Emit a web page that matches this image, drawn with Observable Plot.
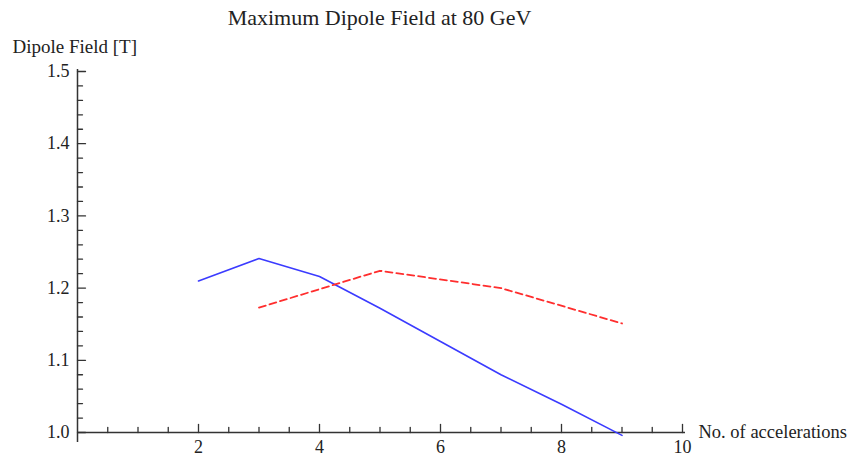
<!DOCTYPE html>
<html><head><meta charset="utf-8">
<script src="https://cdn.jsdelivr.net/npm/d3@7"></script>
<script src="https://cdn.jsdelivr.net/npm/@observablehq/plot@0.6"></script>
<style>
body{margin:0;background:#fff;font-family:"Liberation Serif",serif;}
#title{margin-left:77px;width:605px;height:36px;line-height:36px;text-align:center;font-size:22px;color:#222;}
</style></head>
<body>
<div id="title">Maximum Dipole Field at 80 GeV</div>
<div id="chart"></div>
<script>
// Data
const accelSolid = [2, 3, 4, 5, 6, 7, 8, 9];
const fieldSolid = [1.210, 1.241, 1.216, 1.172, 1.126, 1.080, 1.039, 0.996];
const accelDashed = [3, 5, 7, 9];
const fieldDashed = [1.173, 1.224, 1.200, 1.151];
const xTickLabels = [2, 4, 6, 8, 10];
const yTickLabels = [1.0, 1.1, 1.2, 1.3, 1.4, 1.5];
const xMinorTicks = [0.5,1,1.5,2.5,3,3.5,4.5,5,5.5,6.5,7,7.5,8.5,9,9.5];
const yMinorTicks = [1.02,1.04,1.06,1.08,1.12,1.14,1.16,1.18,1.22,1.24,1.26,1.28,1.32,1.34,1.36,1.38,1.42,1.44,1.46,1.48];
const yTitle = "Dipole Field [T]";
const xTitle = "No. of accelerations";

const solid = accelSolid.map((x, i) => ({x, y: fieldSolid[i]}));
const dashed = accelDashed.map((x, i) => ({x, y: fieldDashed[i]}));
const X0 = 0, Y0 = 1.0;
const axisColor = "#333";
const font = "Liberation Serif";
const tickShape = {draw(context, l) { context.moveTo(0, 0); context.lineTo(0, -l); }};

const chart = Plot.plot({
  width: 850, height: 421,
  marginTop: 35, marginBottom: 25, marginLeft: 77, marginRight: 168,
  style: {fontFamily: font, background: "#fff"},
  x: {domain: [0, 10], axis: null},
  y: {domain: [1.0, 1.5], axis: null},
  marks: [
    Plot.ruleY([Y0], {stroke: axisColor, strokeWidth: 1.5, insetRight: -3}),
    Plot.ruleX([X0], {stroke: axisColor, strokeWidth: 1.5, insetBottom: -10, insetTop: -2}),
    Plot.vector(xMinorTicks, {x: d => d, y: Y0, length: 5, rotate: 0, anchor: "start", shape: tickShape, stroke: axisColor, strokeWidth: 1.3}),
    Plot.vector(xTickLabels, {x: d => d, y: Y0, length: 8, rotate: 0, anchor: "start", shape: tickShape, stroke: axisColor, strokeWidth: 1.3}),
    Plot.vector(yMinorTicks, {x: X0, y: d => d, length: 5, rotate: 90, anchor: "start", shape: tickShape, stroke: axisColor, strokeWidth: 1.3}),
    Plot.vector(yTickLabels, {x: X0, y: d => d, length: 8, rotate: 90, anchor: "start", shape: tickShape, stroke: axisColor, strokeWidth: 1.3}),
    Plot.text(xTickLabels, {x: d => d, y: Y0, text: d => String(d), dy: 15, fontSize: 18, fill: "#222", fontFamily: font}),
    Plot.text(yTickLabels, {x: X0, y: d => d, text: d => d.toFixed(1), textAnchor: "end", dx: -8, fontSize: 18, fill: "#222", fontFamily: font}),
    Plot.text([yTitle], {frameAnchor: "top-left", lineAnchor: "middle", text: d => d, textAnchor: "start", dx: -65, dy: -25, fontSize: 19, fill: "#222", fontFamily: font}),
    Plot.text([xTitle], {frameAnchor: "bottom-right", lineAnchor: "middle", text: d => d, textAnchor: "start", dx: 16, fontSize: 18.5, fill: "#222", fontFamily: font}),
    Plot.line(solid, {x: "x", y: "y", stroke: "#3b3bff", strokeWidth: 1.6}),
    Plot.line(dashed, {x: "x", y: "y", stroke: "#ff2e2e", strokeWidth: 1.8, strokeDasharray: "7,4"})
  ]
});
document.getElementById("chart").appendChild(chart);
</script>
</body></html>
